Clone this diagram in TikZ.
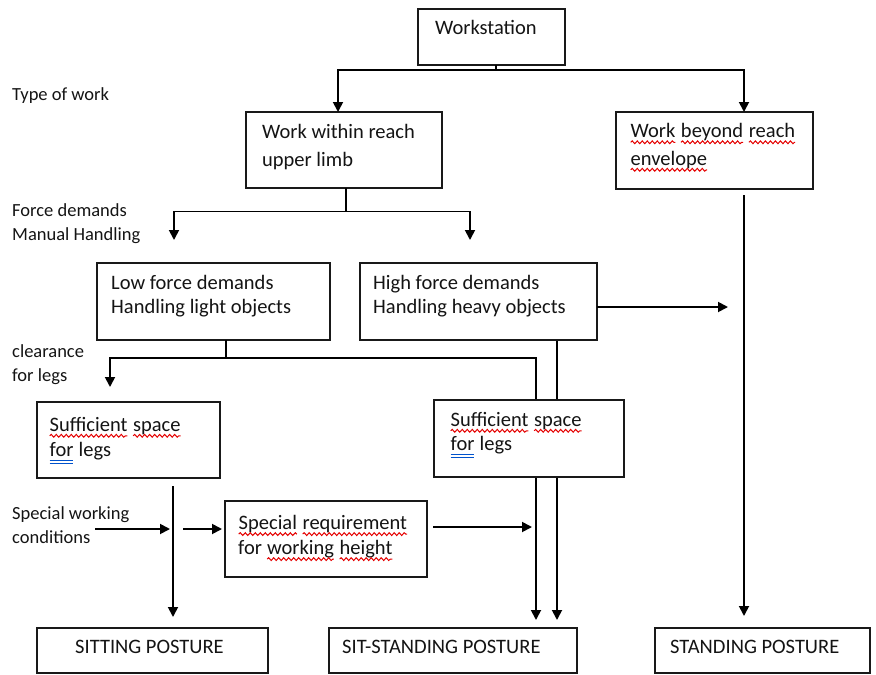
\documentclass[tikz,border=0pt]{standalone}
\usepackage{fontspec}
\setmainfont{Carlito}
\usetikzlibrary{arrows.meta,decorations.pathmorphing,backgrounds,calc}
\newcommand\wv[1]{\tikz[baseline=(w.base)]{\node[inner sep=0pt,outer sep=0pt,anchor=base](w){#1};\draw[red!90!black,line width=1pt,decorate,decoration={snake,amplitude=1.4pt,segment length=5pt}]([yshift=-4.8pt]w.base west)--([yshift=-4.8pt]w.base east);}}
\newcommand\dul[1]{\tikz[baseline=(w.base)]{\node[inner sep=0pt,outer sep=0pt,anchor=base](w){#1};\draw[blue!60!cyan!80!black,line width=1pt]([yshift=-4.2pt]w.base west)--([yshift=-4.2pt]w.base east) ([yshift=-7pt]w.base west)--([yshift=-7pt]w.base east);}}
\begin{document}
\begin{tikzpicture}[x=1pt,y=-1pt,
 box/.style={draw=black!90,line width=1.9pt,fill=white,rectangle,inner sep=0pt,outer sep=0pt,anchor=north west},
 txt/.style={anchor=base west,inner sep=0pt,font=\fontsize{20.5}{24}\selectfont,text=black!92},
 lbl/.style={anchor=base west,inner sep=0pt,font=\fontsize{18.5}{22}\selectfont,text=black!92},
 arr/.style={-{Triangle[width=10pt,length=10pt]},line width=1.8pt,draw=black},
 ln/.style={line width=1.8pt,draw=black}]
\useasboundingbox (0,0) rectangle (876,675);
% boxes
\node[box,minimum width=147pt,minimum height=56pt] (ws) at (418,9) {};
\node[box,minimum width=196pt,minimum height=76pt] (wwr) at (246,112) {};
\node[box,minimum width=197pt,minimum height=77pt] (wbr) at (616,112) {};
\node[box,minimum width=233pt,minimum height=77pt] (lf) at (97,263) {};
\node[box,minimum width=237pt,minimum height=77pt] (hf) at (360,263) {};
\node[box,minimum width=190pt,minimum height=77pt] (ssr) at (434,400) {};
\node[box,minimum width=183pt,minimum height=76pt] (ssl) at (37,402) {};
\node[box,minimum width=202pt,minimum height=76pt] (sr) at (225,501) {};
\node[box,minimum width=231pt,minimum height=45pt] (sit) at (37,628) {};
\node[box,minimum width=248pt,minimum height=45pt] (ssp) at (329,628) {};
\node[box,minimum width=215pt,minimum height=45pt] (sp) at (655,628) {};
% box texts
\node[txt] (t1) at (435,34.3) {Workstation};
\node[txt] (t2) at (262,138) {Work within reach};
\node[txt] (t3) at (262,166.5) {upper limb};
\node[txt] (t4) at (630,137.5) {\wv{Work} \wv{beyond} \wv{reach}};
\node[txt] (t5) at (630,165) {\wv{envelope}};
\node[txt] (t6) at (111,289) {Low force demands};
\node[txt] (t7) at (111,313) {Handling light objects};
\node[txt] (t8) at (373,289) {High force demands};
\node[txt] (t9) at (373,313) {Handling heavy objects};
\node[txt] (t10) at (450,426) {\wv{Sufficient} \wv{space}};
\node[txt] (t11) at (450,450) {\dul{for} legs};
\node[txt] (t12) at (49,431) {\wv{Sufficient} \wv{space}};
\node[txt] (t13) at (49,456.5) {\dul{for} legs};
\node[txt] (t14) at (238,529.3) {\wv{Special} \wv{requirement}};
\node[txt] (t15) at (238,554.3) {for \wv{working} \wv{height}};
\node[txt] (t16) at (75,653) {SITTING POSTURE};
\node[txt] (t17) at (342,653) {SIT-STANDING POSTURE};
\node[txt] (t18) at (670,653) {STANDING POSTURE};
% side labels
\node[lbl] (l1) at (12,100) {Type of work};
\node[lbl] (l2) at (12,216.7) {Force demands};
\node[lbl] (l3) at (12,240) {Manual Handling};
\node[lbl] (l4) at (12,357) {clearance};
\node[lbl] (l5) at (12,381) {for legs};
\node[lbl] (l6) at (12,519.3) {Special working};
\node[lbl] (l7) at (12,543.3) {conditions};
% connectors
\coordinate (j1) at (496,70);
\draw[ln] (ws.south -| j1) -- (j1);
\draw[arr] (j1) -| ($(wwr.north west)+(92,0)$);
\draw[arr] (j1) -| ($(wbr.north west)+(128,0)$);
\coordinate (j2) at (346,211.5);
\coordinate (fa) at (174,240);
\coordinate (fb) at (470,240);
\draw[ln] (wwr.south -| j2) -- (j2);
\draw[arr] (j2) -| (fa);
\draw[arr] (j2) -| (fb);
\coordinate (fc) at (728,307);
\draw[arr] (hf.east |- fc) -- (fc);
\coordinate (sx) at (744,0);
\draw[arr] ($(wbr.south -| sx)+(0,6)$) -- ($(sp.north -| sx)+(0,-12)$);
\coordinate (j3) at (226,358);
\coordinate (cl) at (110,387);
\draw[ln] (lf.south -| j3) -- (j3);
\draw[arr] (j3) -| (cl);
\begin{scope}[on background layer]
\coordinate (c1) at (536,0);
\coordinate (c2) at (557,0);
\draw[arr] (j3) -| ($(ssp.north -| c1)+(0,-8)$);
\draw[arr] (hf.south -| c2) -- ($(ssp.north -| c2)+(0,-8)$);
\end{scope}
\coordinate (c3) at (173,0);
\draw[arr] ($(ssl.south -| c3)+(0,8)$) -- ($(sit.north -| c3)+(0,-11)$);
\coordinate (sw1) at (95,529);
\coordinate (sw2) at (170,529);
\draw[arr] (sw1) -- (sw2);
\coordinate (sw3) at (183,529);
\draw[arr,shorten >=3pt] (sw3) -- (sr.west |- sw3);
\coordinate (sw4) at (532,527);
\draw[arr] ($(sr.east |- sw4)+(6,0)$) -- (sw4);
\end{tikzpicture}
\end{document}
